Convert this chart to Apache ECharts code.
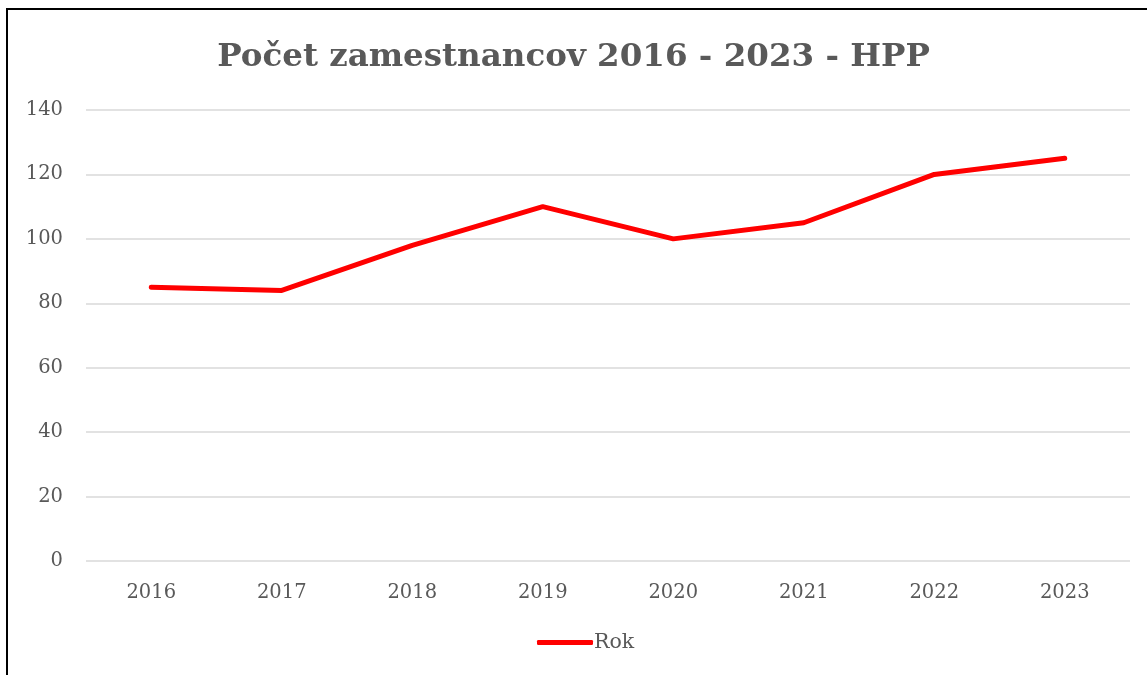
<!DOCTYPE html>
<html>
<head>
<meta charset="utf-8">
<script src="https://cdn.jsdelivr.net/npm/echarts@6/dist/echarts.min.js"></script>
<style>
  html, body { margin: 0; padding: 0; background: #fff; }
  #frame {
    position: absolute; left: 6px; top: 8px;
    width: 1150px; height: 680px;
    border: 2px solid #000; box-sizing: border-box;
  }
  #chart { position: absolute; left: 0; top: 0; width: 1147px; height: 675px; }
</style>
</head>
<body>
<div id="frame"></div>
<div id="chart"></div>
<script>
// rok a pocet zamestnancov
const years = ['2016', '2017', '2018', '2019', '2020', '2021', '2022', '2023'];
const employees = [85, 84, 98, 110, 100, 105, 120, 125];
const seriesName = 'Rok';

const font = "'DejaVu Serif', 'Liberation Serif', serif";
const chart = echarts.init(document.getElementById('chart'));

chart.setOption({
  animation: false,
  title: {
    text: 'Počet zamestnancov 2016 - 2023 - HPP',
    left: 'center',
    top: 36,
    textStyle: { fontFamily: font, fontSize: 32.5, fontWeight: 'bold', color: '#595959' }
  },
  legend: {
    data: [{ name: seriesName, icon: 'roundRect' }],
    bottom: 17,
    left: 532,
    itemWidth: 56,
    itemHeight: 5,
    itemGap: 4,
    textStyle: { fontFamily: font, fontSize: 20.5, color: '#595959', padding: [0, 0, 0, -4] }
  },
  grid: { left: 86, right: 17, top: 110, bottom: 114 },
  xAxis: {
    type: 'category',
    data: years,
    axisLine: { show: false },
    axisTick: { show: false },
    axisLabel: { fontFamily: font, fontSize: 19.5, color: '#595959', margin: 22 }
  },
  yAxis: {
    type: 'value',
    min: 0,
    max: 140,
    interval: 20,
    axisLine: { show: false },
    axisTick: { show: false },
    axisLabel: { fontFamily: font, fontSize: 19.5, color: '#595959', margin: 23 },
    splitLine: { lineStyle: { color: '#d9d9d9', width: 1.5 } }
  },
  series: [{
    name: seriesName,
    type: 'line',
    data: employees,
    symbol: 'none',
    lineStyle: { color: '#ff0000', width: 5, cap: 'round', join: 'round' },
    itemStyle: { color: '#ff0000' }
  }]
});
</script>
</body>
</html>
